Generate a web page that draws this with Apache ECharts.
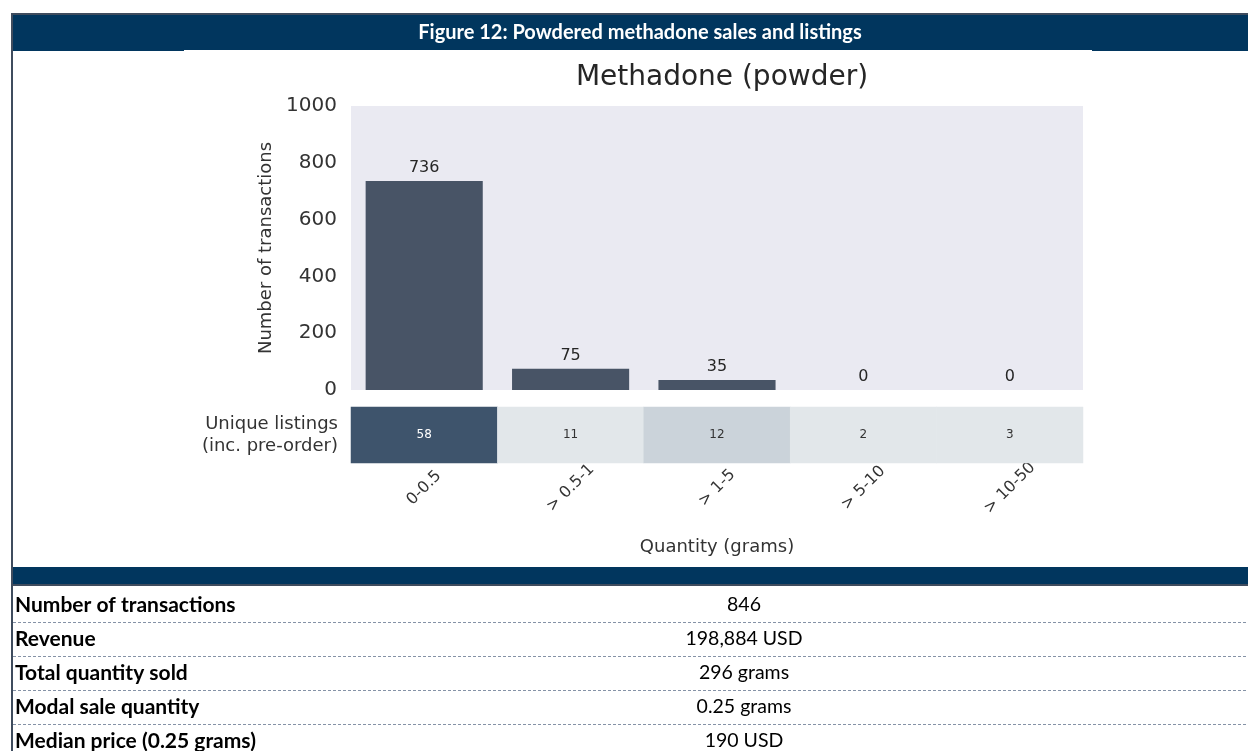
<!DOCTYPE html>
<html>
<head>
<meta charset="utf-8">
<script src="https://cdn.jsdelivr.net/npm/echarts@6/dist/echarts.min.js"></script>
<style>
html, body { margin: 0; padding: 0; background: #fff; }
#main { width: 1248px; height: 751px; }
</style>
</head>
<body>
<div id="main"></div>
<script>
// data
var categories = ['0-0.5', '> 0.5-1', '> 1-5', '> 5-10', '> 10-50'];
var transactions = [736, 75, 35, 0, 0];
var listings = [58, 11, 12, 2, 3];
var yTicks = [0, 200, 400, 600, 800, 1000];
var statNames = ['Number of transactions', 'Revenue', 'Total quantity sold', 'Modal sale quantity', 'Median price (0.25 grams)'];
var statValues = ['846', '198,884 USD', '296 grams', '0.25 grams', '190 USD'];

var NAVY = '#01365E';
var CHART_FONT = 'DejaVu Sans';
var DOC_FONT = 'Lato';

var myChart = echarts.init(document.getElementById('main'));

// header, borders and the stats table are drawn as graphic elements
var graphics = [];
graphics.push({ type: 'rect', shape: { x: 12, y: 13, width: 1236, height: 38 }, style: { fill: NAVY }, z: 1 });
graphics.push({ type: 'rect', shape: { x: 12, y: 13, width: 1236, height: 2 }, style: { fill: '#3F4C5E' }, z: 2 });
graphics.push({ type: 'rect', shape: { x: 11, y: 13, width: 2, height: 738 }, style: { fill: '#3F4C5E' }, z: 2 });
graphics.push({ type: 'rect', shape: { x: 184, y: 50, width: 908, height: 2 }, style: { fill: '#fff' }, z: 2 });
graphics.push({
	type: 'text', x: 640, y: 33, z: 3,
	style: { text: 'Figure 12: Powdered methadone sales and listings', fill: '#fff', font: 'bold 20px ' + DOC_FONT, textAlign: 'center', textVerticalAlign: 'middle' }
});
graphics.push({ type: 'rect', shape: { x: 12, y: 567, width: 1236, height: 19 }, style: { fill: NAVY }, z: 1 });
graphics.push({ type: 'rect', shape: { x: 12, y: 584, width: 1236, height: 2 }, style: { fill: '#3F4C5E' }, z: 2 });

for (var i = 0; i < statNames.length; i++) {
	var cy = 588 + 17 + 34 * i;
	graphics.push({
		type: 'text', x: 15, y: cy, z: 3,
		style: { text: statNames[i], fill: '#000', font: 'bold 21px ' + DOC_FONT, textVerticalAlign: 'middle' }
	});
	graphics.push({
		type: 'text', x: 744, y: cy, z: 3,
		style: { text: statValues[i], fill: '#000', font: '19.5px ' + DOC_FONT, textAlign: 'center', textVerticalAlign: 'middle' }
	});
	if (i < statNames.length - 1) {
		graphics.push({
			type: 'line', z: 3,
			shape: { x1: 13, y1: 588 + 34 * (i + 1) + 0.5, x2: 1248, y2: 588 + 34 * (i + 1) + 0.5 },
			style: { stroke: '#8592A6', lineWidth: 1, lineDash: [3, 2] }
		});
	}
}

var option = {
	animation: false,
	backgroundColor: '#fff',
	textStyle: { fontFamily: CHART_FONT },
	title: {
		text: 'Methadone (powder)',
		left: 717,
		top: 59,
		textAlign: 'center',
		textStyle: { fontFamily: CHART_FONT, fontSize: 28, fontWeight: 'normal', color: '#262626' }
	},
	graphic: graphics,
	grid: [
		{ left: 351, right: 165, top: 106, height: 284, show: true, backgroundColor: '#EAEAF2', borderWidth: 0 },
		{ left: 351, right: 165, top: 407, height: 56 }
	],
	visualMap: {
		show: false,
		seriesIndex: 1,
		dimension: 2,
		pieces: [
			{ gte: 50, color: '#3E546C' },
			{ gte: 12, lt: 50, color: '#CBD3DA' },
			{ lt: 12, color: '#E2E7EA' }
		]
	},
	xAxis: [
		{
			type: 'category', gridIndex: 0, data: categories,
			axisLine: { show: false }, axisTick: { show: false }, axisLabel: { show: false }
		},
		{
			type: 'category', gridIndex: 1, data: categories,
			axisLine: { show: false }, axisTick: { show: false },
			axisLabel: { rotate: 45, fontSize: 16, color: '#333', margin: 25, align: 'center', verticalAlign: 'middle', fontFamily: CHART_FONT },
			name: 'Quantity (grams)', nameLocation: 'middle', nameGap: 75,
			nameTextStyle: { fontSize: 18, color: '#333', fontFamily: CHART_FONT }
		}
	],
	yAxis: [
		{
			type: 'value', gridIndex: 0,
			min: yTicks[0], max: yTicks[yTicks.length - 1], interval: yTicks[1] - yTicks[0],
			axisLine: { show: false }, axisTick: { show: false }, splitLine: { show: false },
			axisLabel: { fontSize: 20, color: '#333', margin: 14, fontFamily: CHART_FONT, formatter: function (v) { return String(v); } },
			name: 'Number of transactions', nameLocation: 'middle', nameGap: 74,
			nameTextStyle: { fontSize: 18, color: '#333', fontFamily: CHART_FONT }
		},
		{
			type: 'category', gridIndex: 1, data: ['Unique listings\n(inc. pre-order)'],
			axisLine: { show: false }, axisTick: { show: false },
			axisLabel: { fontSize: 18, color: '#333', margin: 13, lineHeight: 22, align: 'right', fontFamily: CHART_FONT }
		}
	],
	series: [
		{
			type: 'bar',
			xAxisIndex: 0, yAxisIndex: 0,
			data: transactions,
			barWidth: '80%',
			itemStyle: { color: '#485466' },
			label: { show: true, position: 'top', distance: 5, fontSize: 16, color: '#262626', fontFamily: CHART_FONT }
		},
		{
			type: 'heatmap',
			xAxisIndex: 1, yAxisIndex: 1,
			data: listings.map(function (v, i) { return [i, 0, v]; }),
			label: {
				show: true,
				formatter: function (p) {
					var v = p.value[2];
					return v >= 50 ? '{light|' + v + '}' : '{dark|' + v + '}';
				},
				rich: {
					light: { color: '#fff', fontSize: 12, fontFamily: CHART_FONT },
					dark: { color: '#333', fontSize: 12, fontFamily: CHART_FONT }
				}
			}
		}
	]
};

myChart.setOption(option);
</script>
</body>
</html>
